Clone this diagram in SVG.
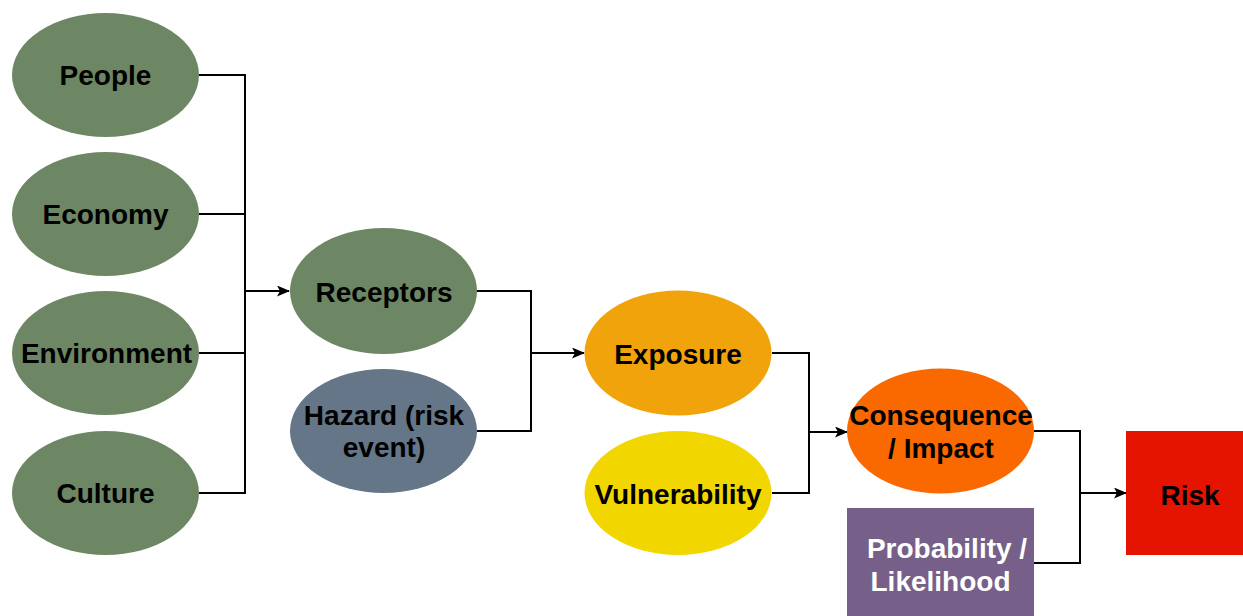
<svg xmlns="http://www.w3.org/2000/svg" width="1243" height="616" viewBox="0 0 1243 616">
<defs>
<style>
text{font-family:"Liberation Sans",Arial,sans-serif;font-weight:bold;font-size:28px;text-anchor:middle;fill:#000}
.w{fill:#fff}
.c{fill:none;stroke:#000;stroke-width:2}
.g{fill:#6d8764}
</style>
<marker id="ah" markerWidth="13" markerHeight="11" refX="12" refY="5.5" orient="auto" markerUnits="userSpaceOnUse">
<path d="M0,0 L13,5.5 L0,11 L3,5.5 z" fill="#000"/>
</marker>
</defs>
<rect width="1243" height="616" fill="#fff"/>
<g id="connectors">
<path class="c" d="M199,75 H245 V493 H199 M199,214 H245 M199,353 H245"/>
<path class="c" d="M245,291 H289" marker-end="url(#ah)"/>
<path class="c" d="M477,291 H531 V431 H477"/>
<path class="c" d="M531,353 H584" marker-end="url(#ah)"/>
<path class="c" d="M772,353 H809 V493 H772"/>
<path class="c" d="M809,432 H847" marker-end="url(#ah)"/>
<path class="c" d="M1034,431 H1080 V563 H1034"/>
<path class="c" d="M1080,493 H1126" marker-end="url(#ah)"/>
</g>
<g id="people"><ellipse class="g" cx="105.5" cy="75" rx="93.5" ry="62"/><text x="105.5" y="85">People</text></g>
<g id="economy"><ellipse class="g" cx="105.5" cy="214" rx="93.5" ry="62"/><text x="105.5" y="224">Economy</text></g>
<g id="environment"><ellipse class="g" cx="105.5" cy="353" rx="93.5" ry="62"/><text x="106.5" y="363">Environment</text></g>
<g id="culture"><ellipse class="g" cx="105.5" cy="493" rx="93.5" ry="62"/><text x="105.5" y="503">Culture</text></g>
<g id="receptors"><ellipse class="g" cx="383.5" cy="291" rx="93.5" ry="63"/><text x="384" y="302">Receptors</text></g>
<g id="hazard"><ellipse fill="#647687" cx="383.5" cy="431" rx="93.5" ry="62"/><text x="384" y="425">Hazard (risk</text><text x="384" y="457">event)</text></g>
<g id="exposure"><ellipse fill="#f0a30a" cx="678" cy="353" rx="93.5" ry="62.5"/><text x="678" y="364">Exposure</text></g>
<g id="vulnerability"><ellipse fill="#f2d600" cx="678" cy="493" rx="93.5" ry="62"/><text x="678" y="504">Vulnerability</text></g>
<g id="consequence"><ellipse fill="#fa6800" cx="940.5" cy="431" rx="93.5" ry="62.5"/><text x="941" y="425">Consequence</text><text x="941" y="458">/ Impact</text></g>
<g id="probability"><rect fill="#76608a" x="847" y="508" width="187" height="110"/><text class="w" x="947" y="558">Probability /</text><text class="w" x="940.5" y="591">Likelihood</text></g>
<g id="risk"><rect fill="#e51400" x="1126" y="431" width="117" height="124"/><text x="1190" y="505">Risk</text></g>
</svg>
